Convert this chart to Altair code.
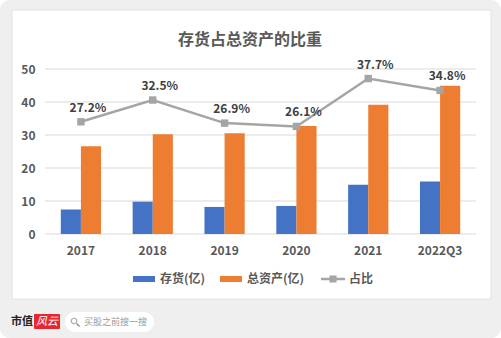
import altair as alt
import pandas as pd

# ---- data ----
categories = ["2017", "2018", "2019", "2020", "2021", "2022Q3"]
inventory = [7.4, 9.8, 8.2, 8.5, 14.9, 15.9]          # 存货(亿)
total_assets = [26.6, 30.2, 30.5, 32.7, 39.2, 44.9]   # 总资产(亿)
ratio_labels = ["27.2%", "32.5%", "26.9%", "26.1%", "37.7%", "34.8%"]
ratio_height = [34.0, 40.6, 33.6, 32.6, 47.1, 43.5]   # marker heights on the left axis
y_ticks = [0, 10, 20, 30, 40, 50]

FONT = "Noto Sans CJK SC"
BLUE = "#4472c4"
ORANGE = "#ed7d31"
GRAY = "#a5a5a5"
TXT = "#595959"

W, H = 431, 165
PL, PT = 45, 69

bars = pd.DataFrame({
    "cat": categories * 2,
    "series": ["存货(亿)"] * 6 + ["总资产(亿)"] * 6,
    "value": inventory + total_assets,
})
line_df = pd.DataFrame({"cat": categories, "h": ratio_height, "label": ratio_labels})
grid_df = pd.DataFrame({"t": y_ticks})
one = pd.DataFrame({"a": [0]})

xscale = alt.Scale(domain=categories, paddingInner=0.44, paddingOuter=0.22)
yscale = alt.Scale(domain=[0, 50])
yaxis = alt.Axis(title=None, values=y_ticks, domain=False, ticks=False, grid=False,
                 zindex=1, labelPadding=10, labelFont=FONT, labelFontSize=12,
                 labelFontWeight="bold", labelColor=TXT)

def px(x):
    return x - PL

def py(y):
    return y - PT

# background frame
outer = alt.Chart(one).mark_rect(color="#efefef", cornerRadius=10).encode(
    x=alt.value(px(0)), x2=alt.value(px(501)), y=alt.value(py(0)), y2=alt.value(py(338)))
panel = alt.Chart(one).mark_rect(color="white", stroke="#e2e2e2", strokeWidth=1).encode(
    x=alt.value(px(12)), x2=alt.value(px(491)), y=alt.value(py(10)), y2=alt.value(py(299)))

grid = alt.Chart(grid_df).mark_rule(color="#d9d9d9", strokeWidth=1).encode(
    y=alt.Y("t:Q", scale=yscale, axis=yaxis),
    x=alt.value(0), x2=alt.value(W))

bar = alt.Chart(bars).mark_bar().encode(
    x=alt.X("cat:N", scale=xscale, sort=categories,
            axis=alt.Axis(title=None, labelAngle=0, domain=False, ticks=False, zindex=1,
                          labelPadding=11, labelFont=FONT, labelFontSize=12,
                          labelFontWeight="bold", labelColor=TXT, grid=False)),
    xOffset=alt.XOffset("series:N", scale=alt.Scale(paddingInner=0, paddingOuter=0)),
    y=alt.Y("value:Q", scale=yscale, axis=yaxis),
    color=alt.Color("series:N", scale=alt.Scale(domain=["存货(亿)", "总资产(亿)"],
                                                range=[BLUE, ORANGE]), legend=None),
)

line = alt.Chart(line_df).mark_line(color=GRAY, strokeWidth=2.5).encode(
    x=alt.X("cat:N", scale=xscale, sort=categories), y=alt.Y("h:Q", scale=yscale, axis=yaxis))
pts = alt.Chart(line_df).mark_point(shape="square", filled=True, color=GRAY, size=55, opacity=1).encode(
    x=alt.X("cat:N", scale=xscale, sort=categories), y=alt.Y("h:Q", scale=yscale, axis=yaxis))
labels = alt.Chart(line_df).mark_text(font=FONT, fontSize=12, fontWeight="bold",
                                      color="#404040", dx=7, dy=-14).encode(
    x=alt.X("cat:N", scale=xscale, sort=categories), y=alt.Y("h:Q", scale=yscale, axis=yaxis),
    text="label:N")

title = alt.Chart(one).mark_text(text="存货占总资产的比重", font=FONT, fontSize=16,
                                 fontWeight="bold", color=TXT).encode(
    x=alt.value(px(250)), y=alt.value(py(40)))

# legend
leg_y = py(279)
leg = [
    alt.Chart(one).mark_rect(color=BLUE).encode(
        x=alt.value(px(133)), x2=alt.value(px(155)), y=alt.value(leg_y - 3), y2=alt.value(leg_y + 3)),
    alt.Chart(one).mark_text(text="存货(亿)", font=FONT, fontSize=12, fontWeight="bold",
                             color=TXT, align="left").encode(x=alt.value(px(160)), y=alt.value(leg_y)),
    alt.Chart(one).mark_rect(color=ORANGE).encode(
        x=alt.value(px(220)), x2=alt.value(px(242)), y=alt.value(leg_y - 3), y2=alt.value(leg_y + 3)),
    alt.Chart(one).mark_text(text="总资产(亿)", font=FONT, fontSize=12, fontWeight="bold",
                             color=TXT, align="left").encode(x=alt.value(px(247)), y=alt.value(leg_y)),
    alt.Chart(one).mark_rule(color=GRAY, strokeWidth=2.5).encode(
        x=alt.value(px(321)), x2=alt.value(px(345)), y=alt.value(leg_y)),
    alt.Chart(one).mark_point(shape="square", filled=True, color=GRAY, size=50, opacity=1).encode(
        x=alt.value(px(333)), y=alt.value(leg_y)),
    alt.Chart(one).mark_text(text="占比", font=FONT, fontSize=12, fontWeight="bold",
                             color=TXT, align="left").encode(x=alt.value(px(349)), y=alt.value(leg_y)),
]

# footer
fy = py(322)
footer = [
    alt.Chart(one).mark_text(text="市值", font=FONT, fontSize=11,
                             fontWeight="bold", color="#222222", align="left").encode(
        x=alt.value(px(11)), y=alt.value(fy)),
    alt.Chart(one).mark_rect(color="#e8262d", cornerRadius=1).encode(
        x=alt.value(px(34)), x2=alt.value(px(60)), y=alt.value(fy - 8), y2=alt.value(fy + 7)),
    alt.Chart(one).mark_text(text="风云", font=FONT, fontSize=11, fontStyle="italic",
                             color="white").encode(x=alt.value(px(47)), y=alt.value(fy)),
    alt.Chart(one).mark_rect(color="white", cornerRadius=10).encode(
        x=alt.value(px(65)), x2=alt.value(px(154)), y=alt.value(fy - 10), y2=alt.value(fy + 10)),
    alt.Chart(one).mark_point(shape="circle", color="#888888", size=30, strokeWidth=1.2).encode(
        x=alt.value(px(74)), y=alt.value(fy - 1)),
    alt.Chart(one).mark_rule(color="#888888", strokeWidth=1.3).encode(
        x=alt.value(px(76.5)), x2=alt.value(px(79.5)), y=alt.value(fy + 1.5), y2=alt.value(fy + 4.5)),
    alt.Chart(one).mark_text(text="买股之前搜一搜", font=FONT, fontSize=9, color="#9a9a9a",
                             align="left").encode(x=alt.value(px(84)), y=alt.value(fy)),
]

chart = alt.layer(outer, panel, grid, bar, line, pts, labels, title, *leg, *footer).properties(
    width=W, height=H,
    autosize=alt.AutoSizeParams(type="none"),
    padding={"left": PL, "top": PT, "right": 501 - PL - W, "bottom": 338 - PT - H},
    background="white",
).configure_view(stroke=None)

chart.save("out.html", embed_options={"renderer": "svg", "actions": False})
